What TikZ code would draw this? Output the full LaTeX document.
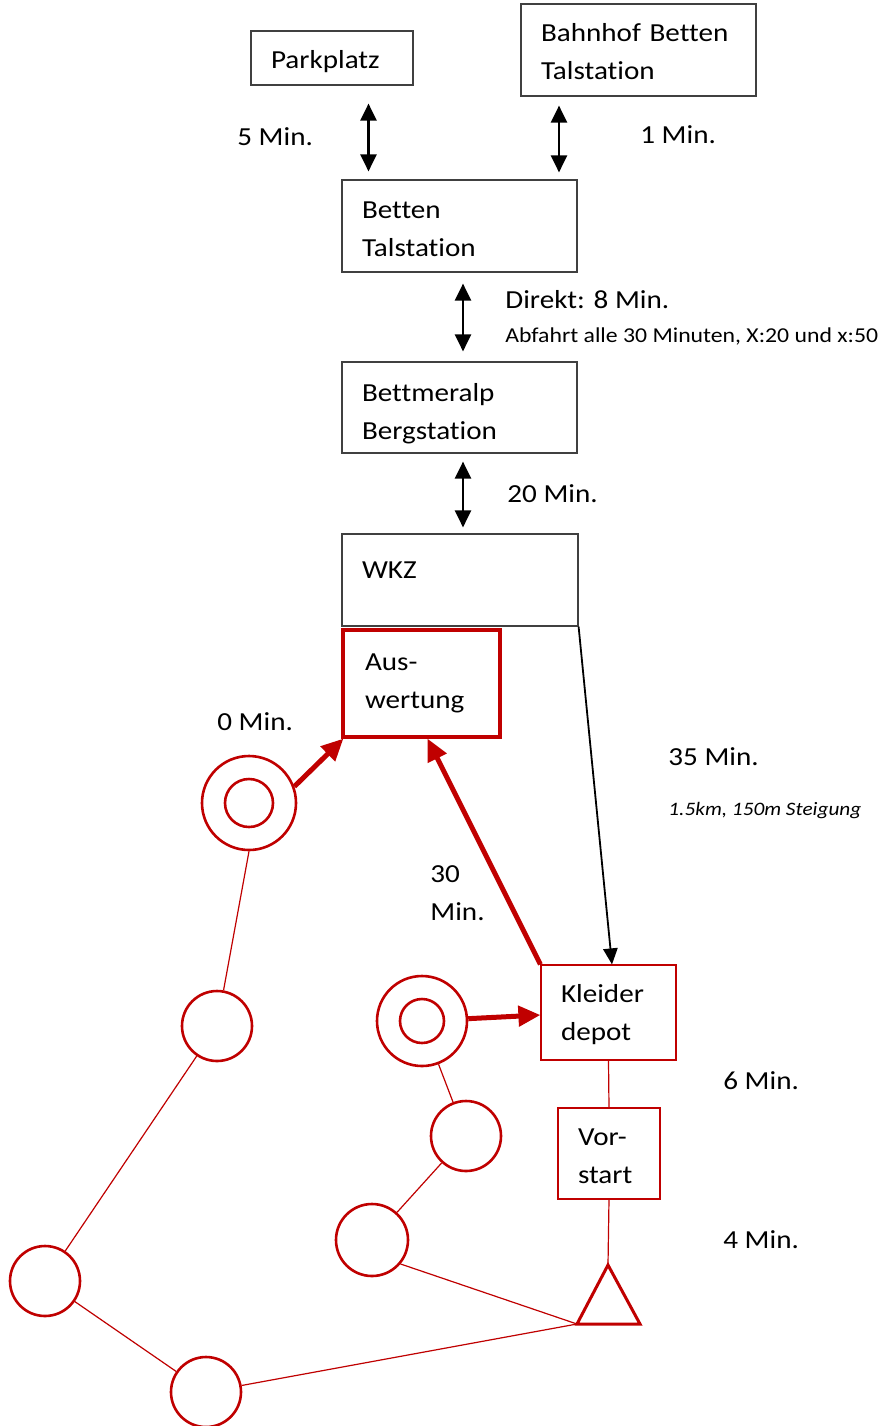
\documentclass[tikz,border=0pt]{standalone}
\usepackage{fontspec}
\setmainfont{Carlito}[Ligatures=NoCommon, FakeStretch=1.12]
\usetikzlibrary{arrows.meta}
\definecolor{dred}{HTML}{C00000}
\definecolor{boxgray}{HTML}{404040}
\newcommand\mytop[1]{\rule{0pt}{#1}}
\newcommand\mybot[1][4.5pt]{\rule[-#1]{0pt}{#1}}
\begin{document}
\begin{tikzpicture}[x=0.5pt,y=-0.5pt,
  mainfont/.style={font=\fontsize{13}{19}\selectfont},
  bbox/.style={draw=boxgray, line width=0.6pt, rectangle, inner xsep=10pt, inner ysep=0pt, align=left, mainfont},
  rbox/.style={draw=dred, line width=0.6pt, rectangle, inner xsep=10pt, inner ysep=0pt, align=left, mainfont},
  abox/.style={draw=dred, line width=1.6pt, rectangle, inner xsep=11pt, inner ysep=0pt, align=left, mainfont},
  lbl/.style={anchor=west, inner sep=0pt, mainfont, align=left},
  post/.style={draw=dred, line width=1.3pt, circle, inner sep=0pt},
  dblarrow/.style={line width=1.2pt, {Triangle[length=8.5pt,width=8pt]}-{Triangle[length=8.5pt,width=8pt]}},
  blkarrow/.style={line width=0.9pt, -{Triangle[length=8pt,width=7.2pt]}},
  redarrow/.style={draw=dred, line width=2.5pt, -{Triangle[length=11pt,width=10pt]}},
  redline/.style={draw=dred, line width=0.6pt}
]
\path[use as bounding box, fill=white] (0,0) rectangle (888,1426);

% boxes
\node[bbox, text width=61pt, minimum height=27pt] (park) at (332,58) {\mytop{14.5pt}Parkplatz\mybot};
\node[bbox, text width=97.5pt, minimum height=46pt] (bahn) at (638.5,50) {\mytop{15.1pt}Bahnhof Betten\\Talstation\mybot};
\node[bbox, text width=97.5pt, minimum height=46pt] (betten) at (459.5,226) {\mytop{15.5pt}Betten\\Talstation\mybot};
\node[bbox, text width=97.5pt, minimum height=45.5pt] (bett) at (459.5,407.5) {\mytop{17pt}Bettmeralp\\Bergstation\mybot};
\node[bbox, text width=98pt, minimum height=46pt] (wkz) at (460,580) {\mytop{10pt}WKZ\mybot[11.3pt]};
\node[abox, text width=56.5pt, minimum height=53.5pt] (ausw) at (421.5,683.5) {\mytop{10pt}Aus-\\wertung\mybot};
\node[rbox, text width=47.5pt, minimum height=47.5pt] (kleid) at (608.5,1012.5) {\mytop{13pt}Kleider\\depot\mybot};
\node[rbox, text width=31pt, minimum height=45.5pt] (vor) at (609,1153.5) {\mytop{15.8pt}Vor-\\start\mybot};

% labels
\node[lbl] (l5) at (237,137) {5 Min.};
\node[lbl] (l1) at (640,135) {1 Min.};
\node[lbl] (ld) at (505,300) {Direkt: 8 Min.};
\node[lbl, font=\fontsize{10.6}{13}\selectfont] (la) at (505,336) {Abfahrt alle 30 Minuten, X:20 und x:50};
\node[lbl] (l20) at (507,494) {20 Min.};
\node[lbl] (l0) at (217,722) {0 Min.};
\node[lbl] (l35) at (668,757) {35 Min.};
\node[lbl, font=\fontsize{9.5}{12}\selectfont\itshape] (lk) at (668,811) {1.5km, 150m Steigung};
\node[lbl] (l30) at (430,893) {30\\Min.};
\node[lbl] (l6) at (723,1081) {6 Min.};
\node[lbl] (l4) at (723,1240) {4 Min.};

% black arrows
\draw[dblarrow] ([xshift=18.25pt,yshift=-9pt]park.south) -- ([xshift=-45.5pt,yshift=4pt]betten.north);
\draw[dblarrow] ([xshift=-39.75pt,yshift=-4.5pt]bahn.south) -- ([xshift=49.75pt,yshift=3.5pt]betten.north);
\draw[dblarrow] ([xshift=1.75pt,yshift=-5.5pt]betten.south) -- ([xshift=1.75pt,yshift=5pt]bett.north);
\draw[dblarrow] ([xshift=1.75pt,yshift=-4pt]bett.south) -- ([xshift=1.5pt,yshift=3pt]wkz.north);
\draw[blkarrow] (wkz.south east) -- ([xshift=1.75pt]kleid.north);

% posts
\node[post, minimum size=47pt] (dc1) at (249,803) {};
\draw[dred, line width=1.3pt] (dc1.center) circle[radius=12pt];
\node[post, minimum size=45pt] (dc2) at (422,1021) {};
\draw[dred, line width=1.3pt] (dc2.center) circle[radius=11pt];
\node[post, minimum size=35pt] (pa) at (217,1026) {};
\node[post, minimum size=35pt] (pb) at (45,1281) {};
\node[post, minimum size=35pt] (pc) at (206,1392) {};
\node[post, minimum size=36pt] (pd) at (372,1240) {};
\node[post, minimum size=35pt] (pe) at (466,1136) {};

% start triangle
\coordinate (tri) at (608,1265);
\coordinate (trib) at (577,1324);
\coordinate (tric) at (640,1324);
\draw[dred, line width=1.5pt, line join=miter] (tri) -- (tric) -- (trib) -- cycle;

% course lines
\draw[redline] (dc1.south) -- (pa);
\draw[redline] (pa) -- (pb);
\draw[redline] (pb) -- (pc);
\draw[redline] (pc) -- (trib);
\draw[redline] (pd.-40) -- (trib);
\draw[redline] (pe) -- (pd);
\draw[redline] (dc2) -- (pe);
\draw[redline] (kleid.south) -- (vor.north);
\draw[redline] (vor.south) -- (tri);

% red arrows
\draw[redarrow] (dc1.20) -- ([xshift=1pt]ausw.south west);
\draw[redarrow] (kleid.north west) -- ([xshift=3pt]ausw.south);
\draw[redarrow] (dc2) -- ([yshift=-1.25pt]kleid.west);
\end{tikzpicture}
\end{document}
